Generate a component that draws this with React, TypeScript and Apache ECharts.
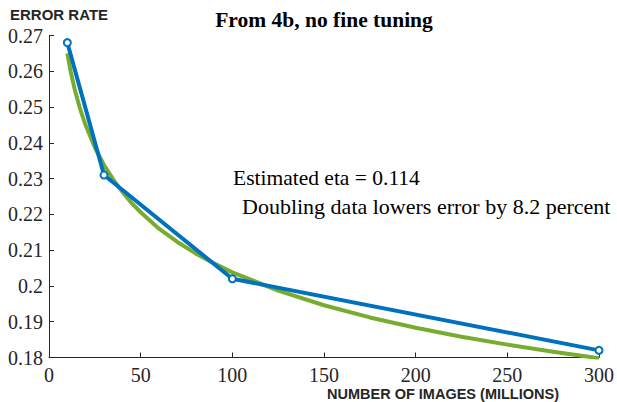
import React, { useEffect, useRef } from "react";
import * as echarts from "echarts";

const observedX = [10, 30, 100, 300];
const observedErr = [0.268, 0.231, 0.202, 0.182];

const fitX = [10, 12, 14, 17, 20, 25, 30, 35, 40, 45, 50, 60, 70, 80, 90, 100, 125, 150, 175, 200, 225, 250, 275, 300];
const fitErr = [0.265, 0.2595, 0.255, 0.2494, 0.2449, 0.2387, 0.2338, 0.2298, 0.2263, 0.2232, 0.2206, 0.216, 0.2123, 0.2091, 0.2063, 0.2038, 0.1987, 0.1946, 0.1912, 0.1883, 0.1858, 0.1836, 0.1816, 0.1798];

const titleText = "From 4b, no fine tuning";
const yLabel = "ERROR RATE";
const xLabel = "NUMBER OF IMAGES (MILLIONS)";
const note1 = "Estimated eta = 0.114";
const note2 = "Doubling data lowers error by 8.2 percent";

const SERIF = "'Liberation Serif', 'Times New Roman', serif";
const SANS = "'Liberation Sans', Arial, sans-serif";
const AX = "#262626";

export default function App() {
  const ref = useRef<HTMLDivElement>(null);
  useEffect(() => {
    if (!ref.current) return;
    const chart = echarts.init(ref.current, null, { renderer: "svg" });
    chart.setOption({
      animation: false,
      backgroundColor: "#ffffff",
      grid: { left: 49, right: 17, top: 35.5, bottom: 44.5, containLabel: false },
      xAxis: {
        type: "value",
        min: 0,
        max: 300,
        interval: 50,
        axisLine: { show: true, lineStyle: { color: AX, width: 1 } },
        axisTick: { show: true, inside: true, length: 5, lineStyle: { color: AX } },
        axisLabel: { color: AX, fontFamily: SERIF, fontSize: 20, margin: 7, lineHeight: 20 },
        splitLine: { show: false },
      },
      yAxis: {
        type: "value",
        min: 0.18,
        max: 0.27,
        interval: 0.01,
        axisLine: { show: true, lineStyle: { color: AX, width: 1 } },
        axisTick: { show: true, inside: true, length: 5, lineStyle: { color: AX } },
        axisLabel: { color: AX, fontFamily: SERIF, fontSize: 20, margin: 6 },
        splitLine: { show: false },
      },
      series: [
        {
          type: "line",
          data: fitX.map((x, i) => [x, fitErr[i]]),
          smooth: false,
          showSymbol: false,
          lineStyle: { color: "#77AC30", width: 4, join: "round" },
          z: 2,
        },
        {
          type: "line",
          data: observedX.map((x, i) => [x, observedErr[i]]),
          symbol: "emptyCircle",
          symbolSize: 7,
          itemStyle: { color: "#0072BD", borderColor: "#0072BD", borderWidth: 2 },
          lineStyle: { color: "#0072BD", width: 4 },
          z: 3,
        },
      ],
      graphic: [
        {
          type: "text",
          x: 324,
          y: 20,
          style: { text: titleText, font: `bold 21.5px ${SERIF}`, fill: "#000", align: "center", verticalAlign: "middle" },
        },
        {
          type: "text",
          x: 10,
          y: 14,
          style: { text: yLabel, font: `bold 15px ${SANS}`, fill: AX, verticalAlign: "middle" },
        },
        {
          type: "text",
          x: 443,
          y: 394,
          style: { text: xLabel, font: `bold 14.5px ${SANS}`, fill: AX, align: "center", verticalAlign: "middle" },
        },
        {
          type: "text",
          x: 233,
          y: 178,
          style: { text: note1, font: `21.5px ${SERIF}`, fill: "#000", verticalAlign: "middle" },
        },
        {
          type: "text",
          x: 242,
          y: 206,
          style: { text: note2, font: `22px ${SERIF}`, fill: "#000", verticalAlign: "middle" },
        },
      ],
    });
    return () => chart.dispose();
  }, []);
  return (
    <div
      ref={ref}
      style={{ position: "fixed", left: 0, top: 0, width: 617, height: 402, background: "#fff" }}
    />
  );
}
